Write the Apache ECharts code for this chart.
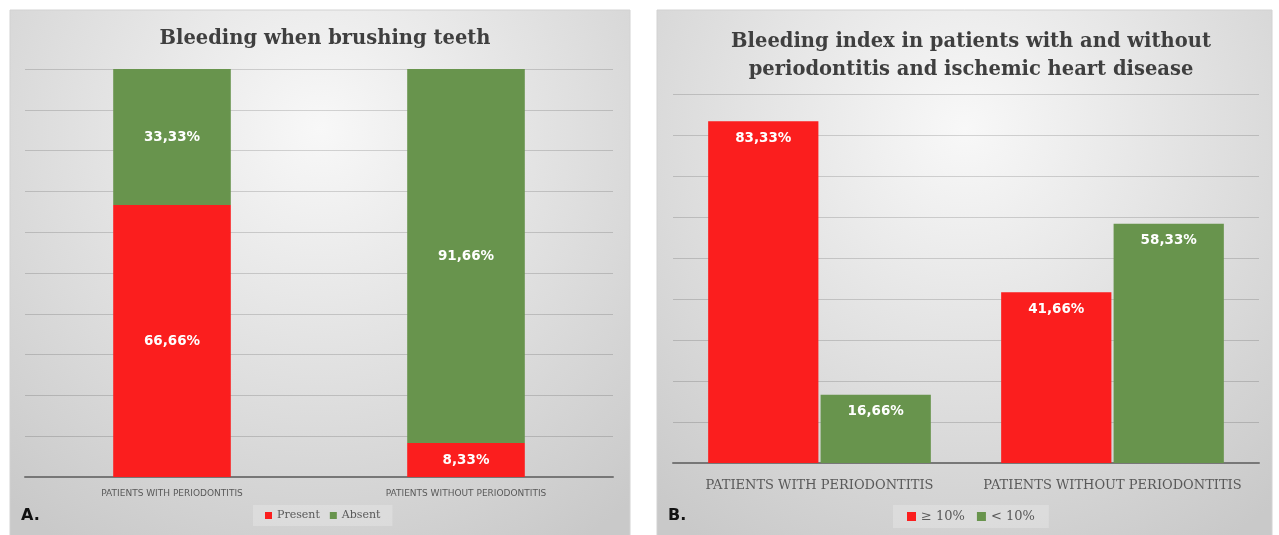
<!DOCTYPE html>
<html>
<head>
<meta charset="utf-8">
<script src="https://cdn.jsdelivr.net/npm/echarts@6/dist/echarts.min.js"></script>
<style>
  html, body { margin: 0; padding: 0; background: #ffffff; }
  #chart { width: 1279px; height: 535px; }
</style>
</head>
<body>
<div id="chart"></div>
<script>
  // panel A: bleeding when brushing teeth (stacked)
  const categoriesA = ['PATIENTS WITH PERIODONTITIS', 'PATIENTS WITHOUT PERIODONTITIS']
  const presentA = [66.66, 8.33]
  const absentA = [33.33, 91.66]

  // panel B: bleeding index (grouped)
  const categoriesB = ['PATIENTS WITH PERIODONTITIS', 'PATIENTS WITHOUT PERIODONTITIS']
  const highB = [83.33, 41.66]
  const lowB = [16.66, 58.33]

  const RED = '#fb1e1e'
  const GREEN = '#68944d'
  const serif = '"DejaVu Serif", "Liberation Serif", serif'
  const sans = '"DejaVu Sans", "Liberation Sans", sans-serif'

  const pct = p => p.value.toFixed(2).replace('.', ',') + '%'

  const panelFill = {
    type: 'radial', x: 0.5, y: 0.22, r: 0.9,
    colorStops: [
      { offset: 0, color: '#f8f8f8' },
      { offset: 1, color: '#c9c9c9' }
    ]
  }

  const valueLabel = (pos, dist) => ({
    show: true,
    position: pos,
    distance: dist,
    color: '#ffffff',
    fontFamily: sans,
    fontWeight: 'bold',
    fontSize: 13.5,
    formatter: pct
  })

  const chart = echarts.init(document.getElementById('chart'))
  chart.setOption({
    animation: false,
    graphic: [
      { type: 'rect', z: -10, shape: { x: 10, y: 10, width: 620, height: 540 },
        style: { fill: panelFill, stroke: '#d2d2d2', lineWidth: 1 } },
      { type: 'rect', z: -10, shape: { x: 657, y: 10, width: 615, height: 540 },
        style: { fill: panelFill, stroke: '#d2d2d2', lineWidth: 1 } },
      { type: 'text', left: 21, top: 508,
        style: { text: 'A.', fill: '#111', font: 'bold 16px ' + sans } },
      { type: 'text', left: 668, top: 508,
        style: { text: 'B.', fill: '#111', font: 'bold 16px ' + sans } }
    ],
    title: [
      { text: 'Bleeding when brushing teeth', left: 320, top: 24, textAlign: 'center',
        textStyle: { fontFamily: serif, fontWeight: 'bold', fontSize: 19.5, color: '#3f3f3f' } },
      { text: 'Bleeding index in patients with and without\nperiodontitis and ischemic heart disease',
        left: 966, top: 23, textAlign: 'center',
        textStyle: { fontFamily: serif, fontWeight: 'bold', fontSize: 19.5, lineHeight: 28, color: '#3f3f3f' } }
    ],
    legend: [
      { data: ['Present', 'Absent'], left: 253, top: 505,
        backgroundColor: 'rgba(255,255,255,0.22)', padding: [5, 12],
        itemWidth: 7, itemHeight: 7, itemGap: 10, icon: 'rect',
        textStyle: { fontFamily: serif, fontSize: 11, color: '#595959' } },
      { data: ['≥ 10%', '< 10%'], left: 893, top: 505,
        backgroundColor: 'rgba(255,255,255,0.22)', padding: [5, 14],
        itemWidth: 9, itemHeight: 9, itemGap: 12, icon: 'rect',
        textStyle: { fontFamily: serif, fontSize: 13, color: '#595959' } }
    ],
    grid: [
      { left: 25, right: 666, top: 69, bottom: 58 },
      { left: 673, right: 20, top: 94, bottom: 72 }
    ],
    xAxis: [
      { type: 'category', gridIndex: 0, data: categoriesA,
        axisLine: { lineStyle: { color: '#777', width: 2 } }, axisTick: { show: false },
        axisLabel: { interval: 0, fontFamily: sans, fontSize: 9, color: '#595959', margin: 12 } },
      { type: 'category', gridIndex: 1, data: categoriesB,
        axisLine: { lineStyle: { color: '#777', width: 2 } }, axisTick: { show: false },
        axisLabel: { interval: 0, fontFamily: serif, fontSize: 13, color: '#595959', margin: 16 } }
    ],
    yAxis: [
      { type: 'value', gridIndex: 0, min: 0, max: 100, interval: 10,
        axisLabel: { show: false }, axisLine: { show: false }, axisTick: { show: false },
        splitLine: { lineStyle: { color: 'rgba(0,0,0,0.15)' } } },
      { type: 'value', gridIndex: 1, min: 0, max: 90, interval: 10,
        axisLabel: { show: false }, axisLine: { show: false }, axisTick: { show: false },
        splitLine: { lineStyle: { color: 'rgba(0,0,0,0.15)' } } }
    ],
    series: [
      { name: 'Present', type: 'bar', stack: 'a', xAxisIndex: 0, yAxisIndex: 0,
        data: presentA, barWidth: '40%', itemStyle: { color: RED },
        label: valueLabel('inside', 0) },
      { name: 'Absent', type: 'bar', stack: 'a', xAxisIndex: 0, yAxisIndex: 0,
        data: absentA, barWidth: '40%', itemStyle: { color: GREEN },
        label: valueLabel('inside', 0) },
      { name: '≥ 10%', type: 'bar', xAxisIndex: 1, yAxisIndex: 1,
        data: highB, barGap: '2%', barCategoryGap: '24%', itemStyle: { color: RED },
        label: valueLabel('insideTop', 10) },
      { name: '< 10%', type: 'bar', xAxisIndex: 1, yAxisIndex: 1,
        data: lowB, barGap: '2%', barCategoryGap: '24%', itemStyle: { color: GREEN },
        label: valueLabel('insideTop', 10) }
    ]
  })
</script>
</body>
</html>
